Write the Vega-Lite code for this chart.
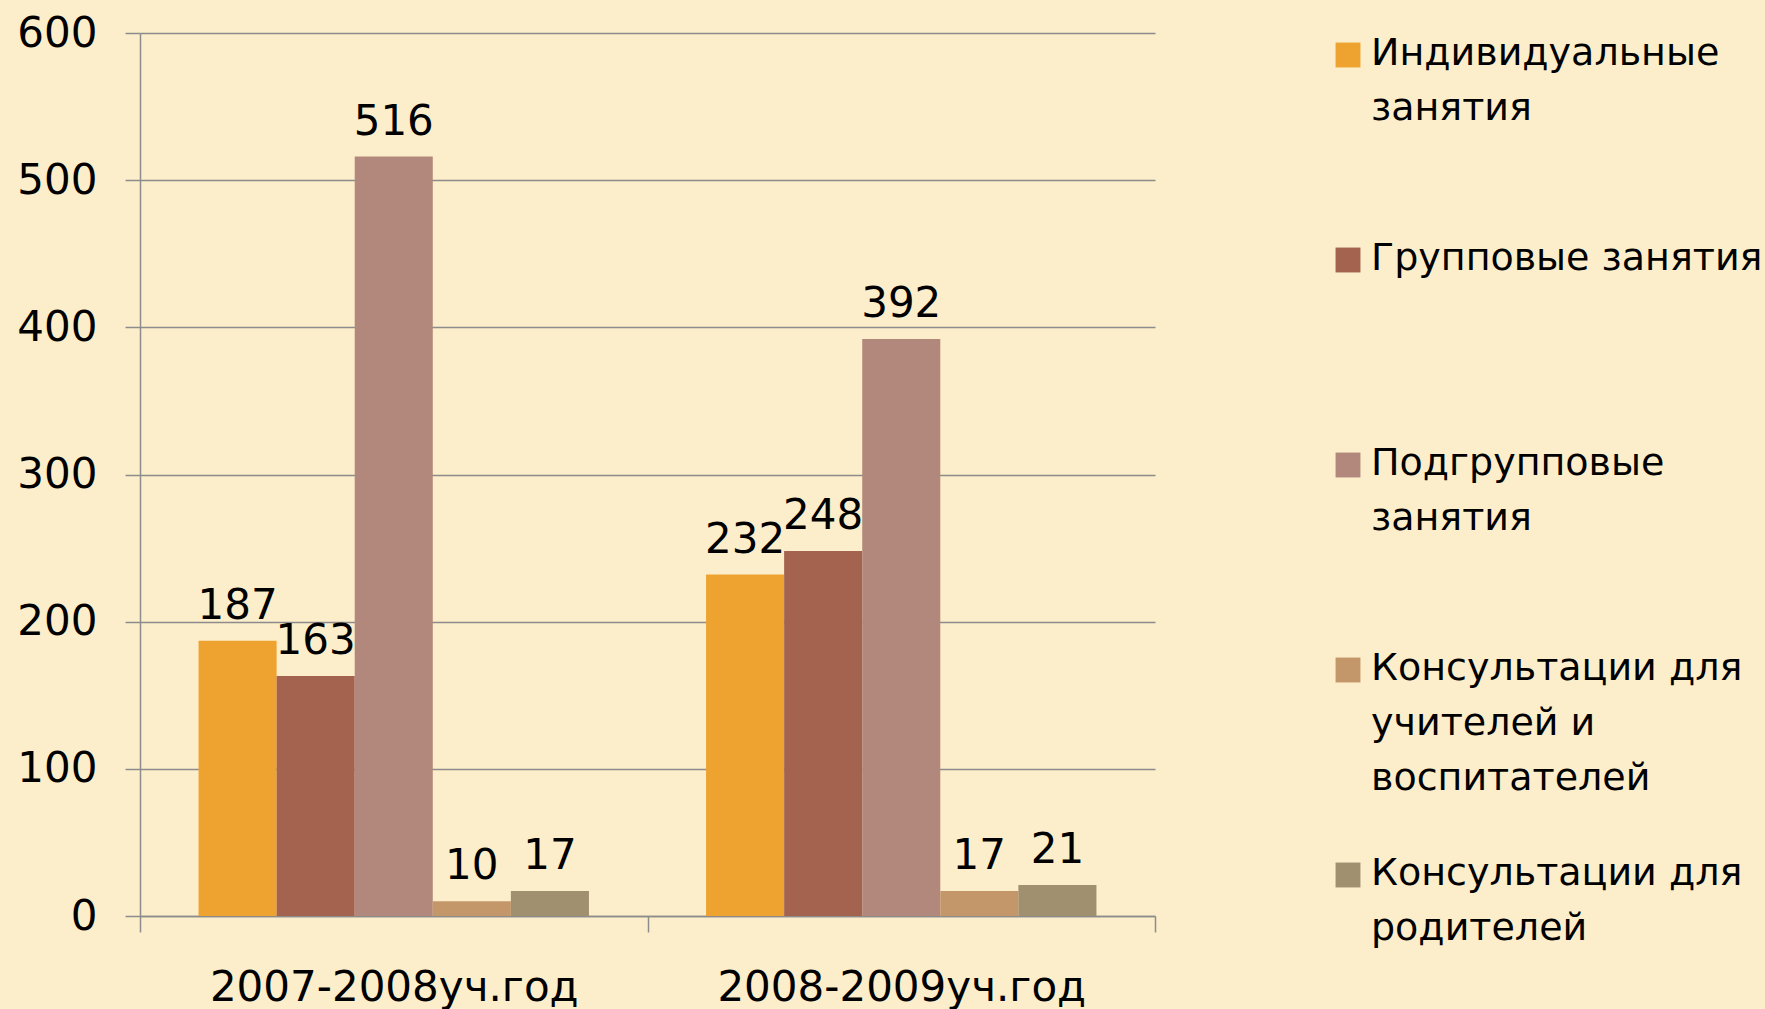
{
  "$schema": "https://vega.github.io/schema/vega-lite/v6.json",
  "autosize": "none",
  "width": 1015,
  "height": 883,
  "padding": {"left": 140, "top": 33, "right": 610, "bottom": 93},
  "background": "#FCEECA",
  "config": {
    "view": {"stroke": null},
    "font": "DejaVu Sans",
    "text": {"font": "DejaVu Sans"}
  },
  "data": {
    "values": [
      {"year": "2007-2008уч.год", "series": "Индивидуальные занятия", "value": 187},
      {"year": "2007-2008уч.год", "series": "Групповые занятия", "value": 163},
      {"year": "2007-2008уч.год", "series": "Подгрупповые занятия", "value": 516},
      {"year": "2007-2008уч.год", "series": "Консультации для учителей и воспитателей", "value": 10},
      {"year": "2007-2008уч.год", "series": "Консультации для родителей", "value": 17},
      {"year": "2008-2009уч.год", "series": "Индивидуальные занятия", "value": 232},
      {"year": "2008-2009уч.год", "series": "Групповые занятия", "value": 248},
      {"year": "2008-2009уч.год", "series": "Подгрупповые занятия", "value": 392},
      {"year": "2008-2009уч.год", "series": "Консультации для учителей и воспитателей", "value": 17},
      {"year": "2008-2009уч.год", "series": "Консультации для родителей", "value": 21}
    ]
  },
  "encoding": {
    "x": {
      "field": "year", "type": "nominal", "title": null,
      "scale": {"paddingInner": 0, "paddingOuter": 0},
      "axis": {
        "labelAngle": 0, "labelFontSize": 42, "labelColor": "#000000",
        "labelFont": "DejaVu Sans", "labelLimit": 700,
        "domainColor": "#8C8C8C", "domainWidth": 1.5,
        "tickColor": "#8C8C8C", "tickWidth": 1.5, "tickSize": 16,
        "tickBand": "extent", "labelPadding": 35
      }
    },
    "xOffset": {
      "field": "series", "type": "nominal",
      "sort": ["Индивидуальные занятия", "Групповые занятия", "Подгрупповые занятия", "Консультации для учителей и воспитателей", "Консультации для родителей"],
      "scale": {"paddingInner": 0, "paddingOuter": 0.75}
    },
    "y": {
      "field": "value", "type": "quantitative", "title": null,
      "scale": {"domain": [0, 600], "nice": false},
      "axis": {
        "values": [0, 100, 200, 300, 400, 500, 600],
        "labelFontSize": 42, "labelColor": "#000000", "labelFont": "DejaVu Sans",
        "domainColor": "#8C8C8C", "domainWidth": 1.5,
        "tickColor": "#8C8C8C", "tickWidth": 1.5, "tickSize": 15,
        "gridColor": "#8C8C8C", "gridWidth": 1.5, "grid": true,
        "labelPadding": 28
      }
    }
  },
  "layer": [
    {
      "mark": {"type": "bar"},
      "encoding": {
        "color": {
          "field": "series", "type": "nominal",
          "sort": ["Индивидуальные занятия", "Групповые занятия", "Подгрупповые занятия", "Консультации для учителей и воспитателей", "Консультации для родителей"],
          "scale": {
            "domain": ["Индивидуальные занятия", "Групповые занятия", "Подгрупповые занятия", "Консультации для учителей и воспитателей", "Консультации для родителей"],
            "range": ["#EEA330", "#A3634F", "#B3887C", "#C4976A", "#A09070"]
          },
          "legend": {
            "orient": "none", "legendX": 1189, "legendY": 3,
            "title": null, "symbolType": "square", "symbolSize": 620,
            "symbolStrokeWidth": 0, "labelFontSize": 38, "labelFont": "DejaVu Sans",
            "labelColor": "#000000", "labelLimit": 600, "labelOffset": 4,
            "labelBaseline": "top", "gridAlign": "all", "rowPadding": 57, "padding": 0,
            "labelExpr": "datum.label == 'Индивидуальные занятия' ? ['Индивидуальные', 'занятия'] : datum.label == 'Подгрупповые занятия' ? ['Подгрупповые', 'занятия'] : datum.label == 'Консультации для учителей и воспитателей' ? ['Консультации для', 'учителей и', 'воспитателей'] : datum.label == 'Консультации для родителей' ? ['Консультации для', 'родителей'] : datum.label",
            "encode": {"labels": {"update": {"dy": {"value": -20}, "lineHeight": {"value": 55}}}}
          }
        }
      }
    },
    {
      "mark": {"type": "text", "fontSize": 42, "font": "DejaVu Sans", "color": "#000000", "baseline": "alphabetic", "dy": -22},
      "encoding": {"text": {"field": "value", "type": "quantitative"}}
    }
  ]
}
